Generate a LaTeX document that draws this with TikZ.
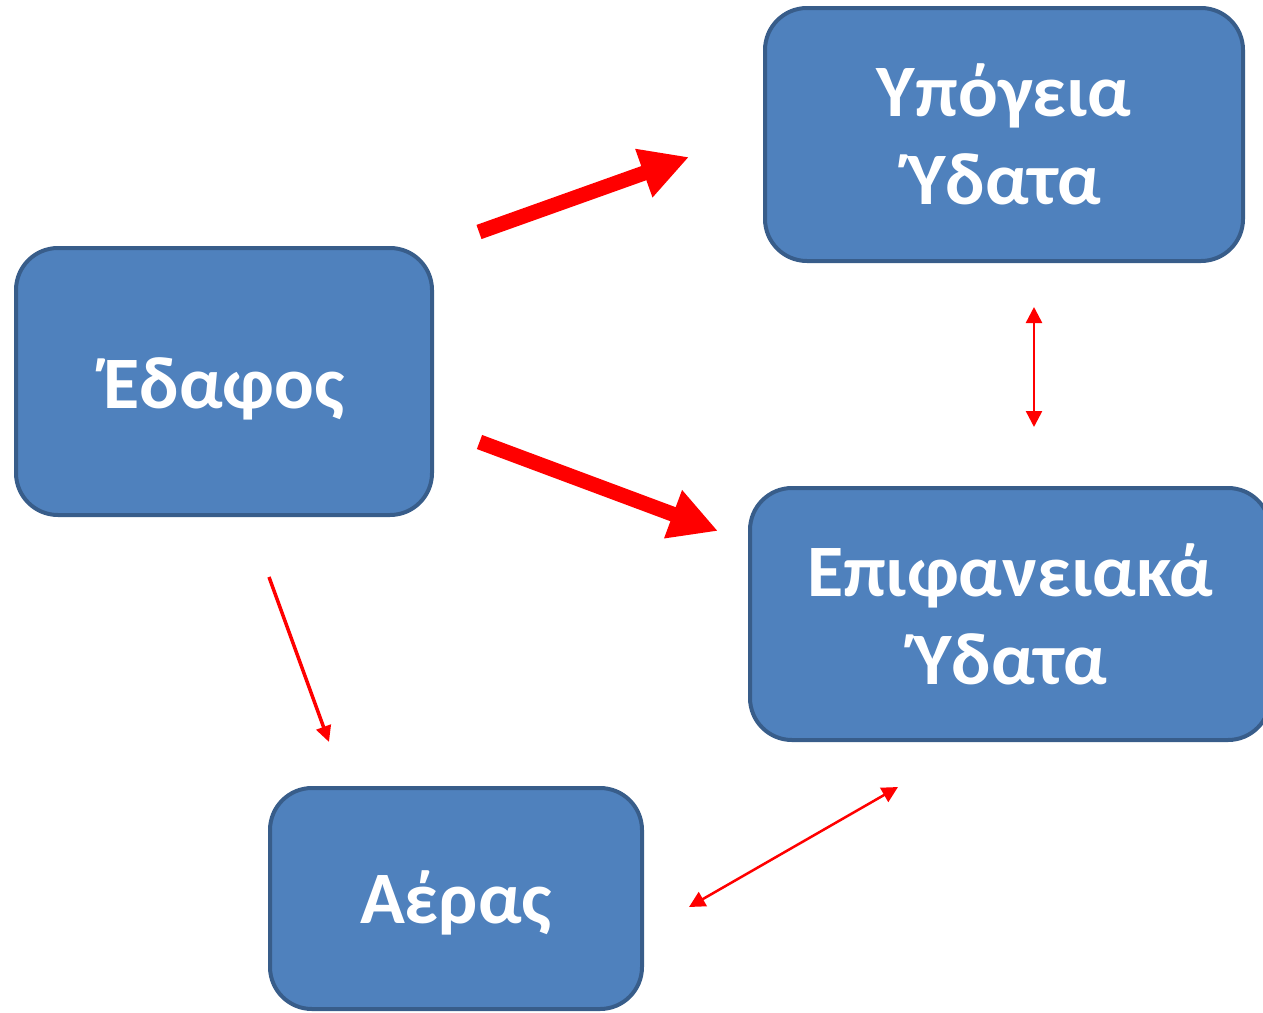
\documentclass[tikz,border=0pt]{standalone}
\usepackage{fontspec}
\setmainfont{Carlito}
\usetikzlibrary{arrows.meta}
\definecolor{boxfill}{HTML}{4F81BD}
\definecolor{boxline}{HTML}{385D8A}
\definecolor{arrred}{HTML}{FF0000}
\begin{document}
\begin{tikzpicture}[x=1pt,y=-1pt,
  box/.style={draw=boxline, fill=boxfill, line width=4pt, rounded corners=42pt,
    inner sep=0pt, align=center, text=white,
    font=\fontsize{74}{88}\selectfont\bfseries},
  thickarr/.style={draw=arrred, line width=15pt, -{Triangle[length=48pt,width=48pt]}},
  thinarr/.style={draw=arrred, line width=3.5pt, -{Triangle[length=16pt,width=15pt]}},
  dblarr/.style={draw=arrred, line width=2.5pt, {Triangle[length=16pt,width=16pt]}-{Triangle[length=16pt,width=16pt]}}
]
\useasboundingbox (0,0) rectangle (1263,1012);
\clip (0,0) rectangle (1263,1012);
\node[box, minimum width=416pt, minimum height=267pt, text height=53pt, text depth=0pt] (edafos) at (224,381.5) {Έδαφος};
\node[box, minimum width=478pt, minimum height=253pt] (ypogeia) at (1004,134.5) {Υπόγεια\\Ύδατα};
\node[box, minimum width=520pt, minimum height=252pt] (epif) at (1010,614) {Επιφανειακά\\Ύδατα};
\node[box, minimum width=372pt, minimum height=221pt, text height=50pt, text depth=0pt] (aeras) at (456,898.5) {Αέρας};
\coordinate (a1s) at (479,232);
\coordinate (a1e) at (689,157);
\coordinate (a2s) at (479.5,442);
\coordinate (a2e) at (718,531);
\coordinate (a3s) at (269,577);
\coordinate (a3e) at (329,742);
\coordinate (a4s) at (1034,307);
\coordinate (a4e) at (1034,427);
\coordinate (a5s) at (689,907);
\coordinate (a5e) at (898,787);
\draw[thickarr] (a1s) -- (a1e);
\draw[thickarr] (a2s) -- (a2e);
\draw[thinarr] (a3s) -- (a3e);
\draw[dblarr] (a4s) -- (a4e);
\draw[dblarr] (a5s) -- (a5e);
\end{tikzpicture}
\end{document}
